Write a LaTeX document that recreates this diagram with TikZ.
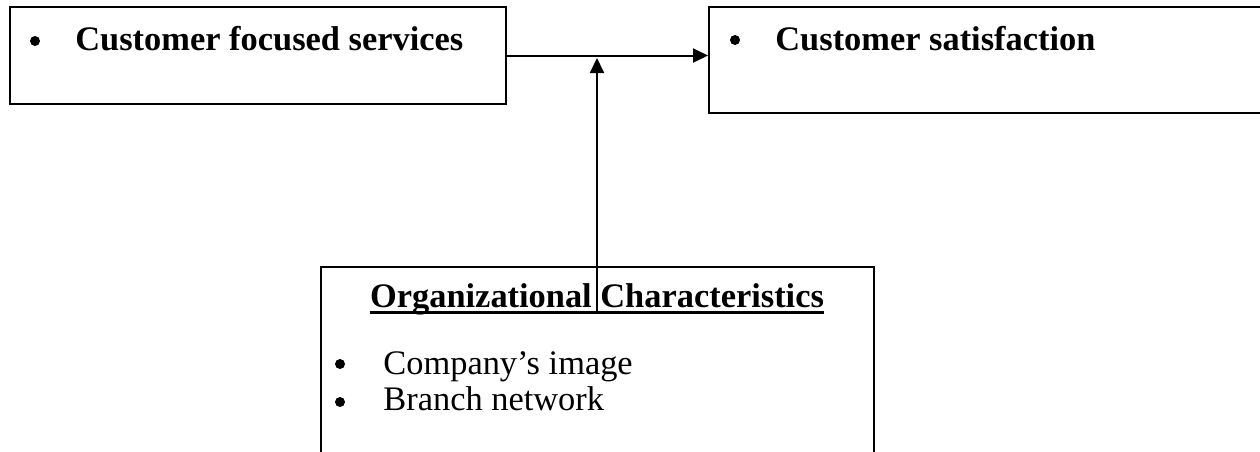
\documentclass[tikz,border=0pt]{standalone}
\usepackage{fontspec}
\setmainfont{Liberation Serif}
\usetikzlibrary{positioning,calc,arrows.meta}

\tikzset{
  block/.style={draw, line width=1pt, anchor=north west, inner sep=0pt},
  txt/.style={anchor=base west, inner sep=0pt, font=\fontsize{17.2}{20.5}\selectfont},
  hdr/.style={txt, font=\fontsize{17.2}{20.5}\selectfont\bfseries},
  dot/.style={circle, fill, inner sep=0pt, minimum size=5pt},
  link/.style={line width=1pt, -{Triangle[length=7.5pt,width=7pt]}}
}

\begin{document}
\begin{tikzpicture}[x=0.5pt,y=-0.5pt]
    \useasboundingbox (0,0) rectangle (1260,451);
    \clip (0,0) rectangle (1260,451);

    % the three boxes
    \node[block, minimum width=248pt, minimum height=48.5pt] (services) at (9,6) {};
    \node[block, minimum width=283.5pt, minimum height=53pt] (satisfaction) at (708,6) {};
    \node[block, minimum width=276.5pt, minimum height=107pt] (org) at (320,266) {};

    % box texts
    \node[dot] (dot1) at (35,41) {};
    \node[hdr] (servicestext) at (75,50) {Customer focused services};
    \node[dot] (dot2) at (735,40) {};
    \node[hdr] (satisfactiontext) at (775,50) {Customer satisfaction};

    \node[hdr, anchor=base] (heading) at (597,307) {Organizational Characteristics};
    \draw[line width=1.5pt] ([yshift=-2.75pt]heading.base west) -- ([yshift=-2.75pt]heading.base east);
    \node[dot] (dot3) at (340,364) {};
    \node[txt] (image) at (383,374) {Company’s image};
    \node[dot] (dot4) at (340,402) {};
    \node[txt] (branch) at (383,410) {Branch network};

    % arrows
    \coordinate (join) at (services.east -| heading.base);
    \draw[link] (services.east) -- (services.east -| satisfaction.west);
    \draw[link] ([yshift=-2.75pt]heading.base) -- ([yshift=-1.25pt]join);
\end{tikzpicture}
\end{document}
